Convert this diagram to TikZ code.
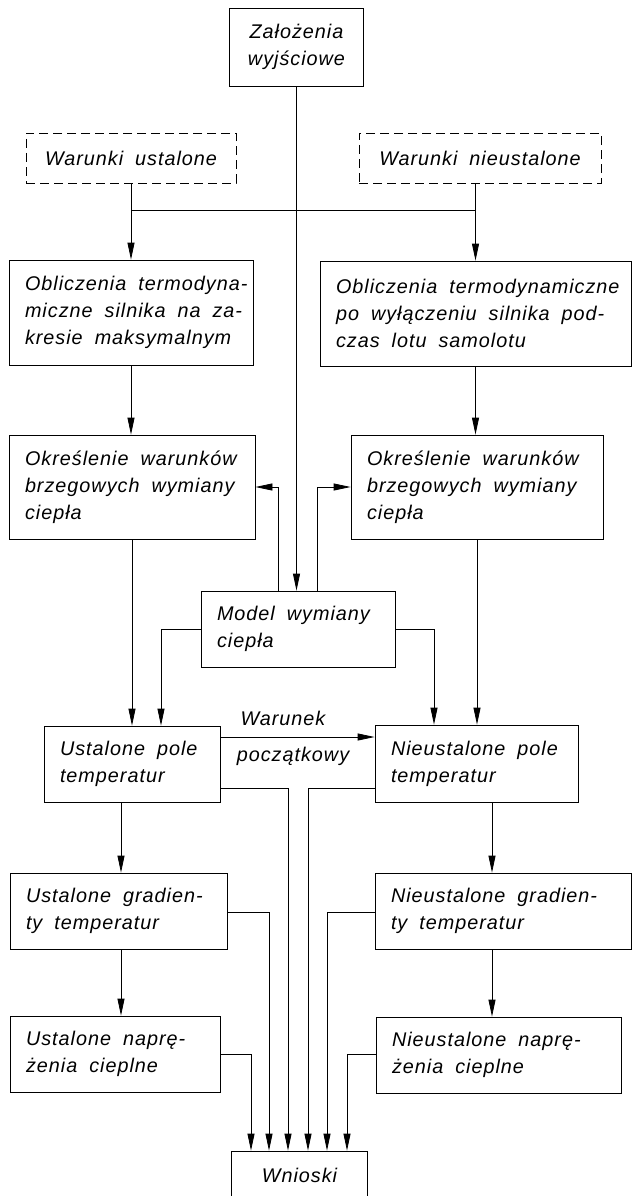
\documentclass[tikz,border=0pt]{standalone}
\usepackage{fontspec}
\setmainfont{Liberation Sans}[LetterSpace=5]
\usetikzlibrary{arrows.meta}
\newcommand\oneline[1]{\mbox{\spaceskip=12pt plus 0pt\relax #1}}
\begin{document}
\begin{tikzpicture}[x=1pt,y=-1pt,
  every node/.style={font=\fontsize{19.8}{27}\selectfont\itshape},
  box/.style={draw, line width=0.8pt, inner xsep=16pt, inner ysep=0pt, align=left},
  cbox/.style={draw, line width=0.8pt, inner sep=0pt, align=center},
  dbox/.style={cbox, dash pattern=on 9pt off 5pt},
  conn/.style={line width=0.8pt},
  arr/.style={conn, -{Triangle[length=17pt,width=7pt]}},
]
\useasboundingbox (0,0) rectangle (632,1196);

% boxes
\node[cbox, minimum width=134pt, minimum height=78pt] (zal) at (296.5,47) {Założenia\\wyjściowe};
\node[dbox, minimum width=210pt, minimum height=50pt] (wu) at (131,158) {\oneline{Warunki ustalone}};
\node[dbox, minimum width=242pt, minimum height=50pt] (wn) at (480,158) {\oneline{Warunki nieustalone}};
\node[box, text width=212pt, minimum height=105pt] (obl) at (131,312.5)
  {\oneline{Obliczenia termodyna-}\\\oneline{miczne silnika na za-}\\\oneline{kresie maksymalnym}};
\node[box, text width=279pt, minimum height=105pt] (obr) at (475.5,313.5)
  {\oneline{Obliczenia termodynamiczne}\\\oneline{po wyłączeniu silnika pod-}\\\oneline{czas lotu samolotu}};
\node[box, text width=214pt, minimum height=104pt] (okl) at (132,487)
  {\oneline{Określenie warunków}\\\oneline{brzegowych wymiany}\\\oneline{ciepła}};
\node[box, text width=220pt, minimum height=104pt] (okr) at (477,487)
  {\oneline{Określenie warunków}\\\oneline{brzegowych wymiany}\\\oneline{ciepła}};
\node[box, text width=162pt, minimum height=76pt] (mod) at (298,629)
  {\oneline{Model wymiany}\\\oneline{ciepła}};
\node[box, text width=144pt, minimum height=76pt] (upl) at (132,764)
  {\oneline{Ustalone pole}\\\oneline{temperatur}};
\node[box, text width=171pt, minimum height=77pt] (npl) at (476.5,763.5)
  {\oneline{Nieustalone pole}\\\oneline{temperatur}};
\node[box, text width=185pt, minimum height=76pt] (ugr) at (118.5,911)
  {\oneline{Ustalone gradien-}\\\oneline{ty temperatur}};
\node[box, text width=224pt, minimum height=76pt] (ngr) at (503,911)
  {\oneline{Nieustalone gradien-}\\\oneline{ty temperatur}};
\node[box, text width=178pt, minimum height=76pt] (unp) at (115,1054)
  {\oneline{Ustalone naprę-}\\\oneline{żenia cieplne}};
\node[box, text width=213pt, minimum height=76pt] (nnp) at (498.5,1055)
  {\oneline{Nieustalone naprę-}\\\oneline{żenia cieplne}};
\node[cbox, minimum width=136pt, minimum height=48pt] (wni) at (299.5,1175) {Wnioski};

% labels
\node[anchor=base, inner sep=0pt] (lw) at (283,725) {Warunek};
\node[anchor=base, inner sep=0pt] (lp) at (293,761) {początkowy};

% helper coordinates
\coordinate (hl) at (131,210);
\coordinate (hr) at (475.5,210);
\coordinate (m1) at (278,0);
\coordinate (m2) at (317,0);
\coordinate (m3) at (161,0);
\coordinate (m4) at (434,0);
\coordinate (w1) at (0,737);
\coordinate (u1) at (121,0);
\coordinate (n1) at (492,0);
\coordinate (c1) at (288,788);
\coordinate (c2) at (308,788);
\coordinate (c3) at (269,912);
\coordinate (c4) at (327,912);
\coordinate (c5) at (251,1054);
\coordinate (c6) at (347,1054);

% connectors
\draw[arr] (zal.south) -- (zal.south |- mod.north);
\draw[arr] (wu.south) -- (wu.south |- obl.north);
\draw[arr] (obr.north |- wn.south) -- (obr.north);
\draw[conn] (hl) -- (hr);
\draw[arr] (obl.south) -- (obl.south |- okl.north);
\draw[arr] (obr.south) -- (obr.south |- okr.north);
\draw[arr] (okl.south) -- (okl.south |- upl.north);
\draw[arr] (okr.south) -- (okr.south |- npl.north);
\draw[arr] (mod.north -| m1) |- (okl.east);
\draw[arr] (mod.north -| m2) |- (okr.west);
\draw[arr] (mod.west) -| (m3 |- upl.north);
\draw[arr] (mod.east) -| (m4 |- npl.north);
\draw[arr] (upl.east |- w1) -- (npl.west |- w1);
\draw[arr] (upl.south -| u1) -- (ugr.north -| u1);
\draw[arr] (ugr.south -| u1) -- (unp.north -| u1);
\draw[arr] (npl.south -| n1) -- (ngr.north -| n1);
\draw[arr] (ngr.south -| n1) -- (nnp.north -| n1);
\draw[arr] (upl.east |- c1) -| (c1 |- wni.north);
\draw[arr] (npl.west |- c2) -| (c2 |- wni.north);
\draw[arr] (ugr.east |- c3) -| (c3 |- wni.north);
\draw[arr] (ngr.west |- c4) -| (c4 |- wni.north);
\draw[arr] (unp.east |- c5) -| (c5 |- wni.north);
\draw[arr] (nnp.west |- c6) -| (c6 |- wni.north);
\end{tikzpicture}
\end{document}
